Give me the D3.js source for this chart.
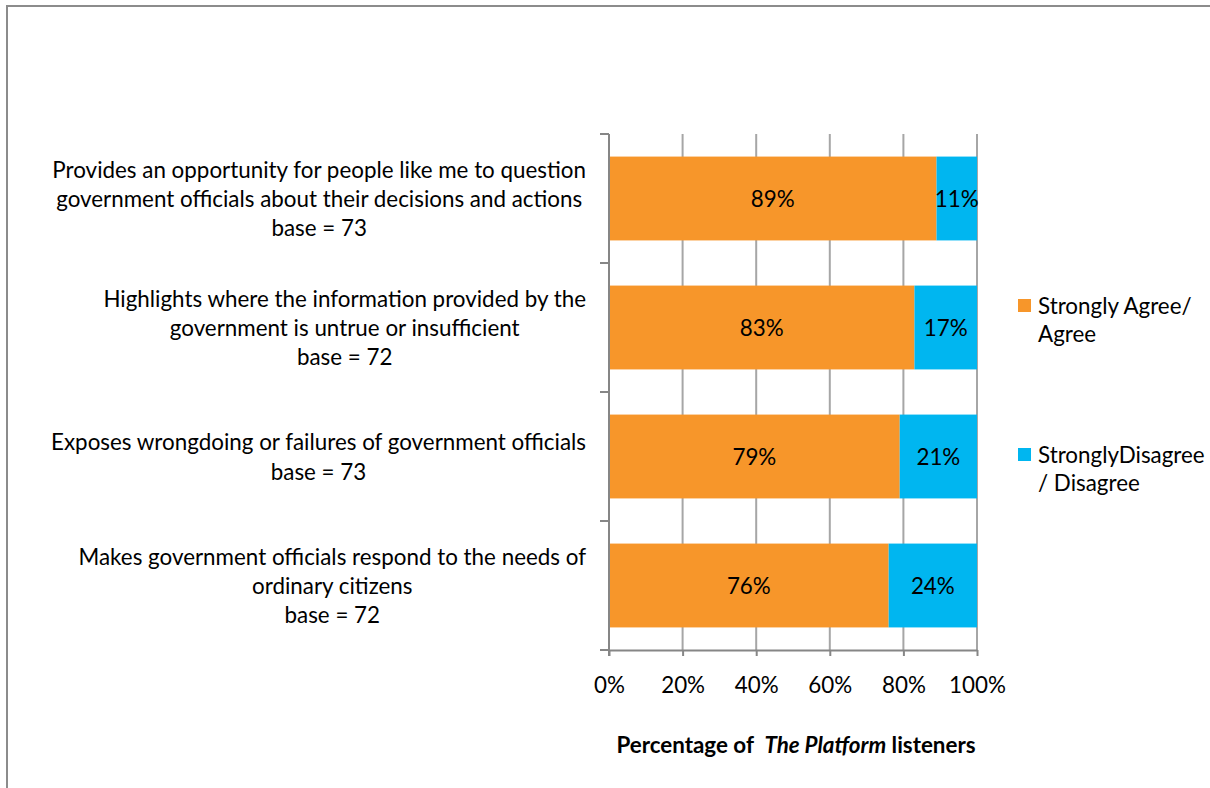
<!DOCTYPE html>
<html>
<head>
<meta charset="utf-8">
<script src="https://cdn.jsdelivr.net/npm/d3@7"></script>
<style>
  html, body { margin: 0; padding: 0; background: #fff; }
  svg { display: block; }
  text { font-family: Lato, "Open Sans", sans-serif; fill: #000; }
</style>
</head>
<body>
<svg id="chart" width="1210" height="788"></svg>
<script>
// Statements rated by listeners (each entry is one wrapped label block)
const categories = [
  ["Provides an opportunity for people like me to question", "government officials about their decisions and actions", "base = 73"],
  ["Highlights where the information provided by the", "government is untrue or insufficient", "base = 72"],
  ["Exposes wrongdoing or failures of government officials", "base = 73"],
  ["Makes government officials respond to the needs of", "ordinary citizens", "base = 72"]
];
const agree = [89, 83, 79, 76];
const disagree = [11, 17, 21, 24];
const seriesLegend = [["Strongly Agree/", "Agree"], ["StronglyDisagree", "/ Disagree"]];
const xTicks = [0, 20, 40, 60, 80, 100];

const colors = ["#F7962A", "#00B6F0"];
const gridColor = "#A6A6A6";
const axisColor = "#868686";

const svg = d3.select("#chart");

// Frame around the chart area
svg.append("rect")
  .attr("x", 7).attr("y", 6)
  .attr("width", 1400).attr("height", 1000)
  .attr("fill", "none").attr("stroke", "#8C8C8C").attr("stroke-width", 2);

// Pick a font size so the longest label line spans the same width as a 22px Calibri line
const probe = svg.append("text").attr("font-size", 22).text(categories[0][0]);
const fitScale = 534 / probe.node().getComputedTextLength();
probe.remove();
const fs = 22 * fitScale;

const x = d3.scaleLinear().domain([0, 100]).range([609, 977]);
const y = d3.scaleBand().domain(d3.range(categories.length)).range([134, 650])
  .paddingInner(0.35).paddingOuter(0.175);
const step = y.step();
const boundaries = d3.range(categories.length + 1).map(i => 134 + i * step);

// Vertical gridlines
svg.append("g").selectAll("line")
  .data(xTicks.slice(1))
  .join("line")
  .attr("x1", d => x(d)).attr("x2", d => x(d))
  .attr("y1", 134).attr("y2", 650)
  .attr("stroke", gridColor).attr("stroke-width", 2);

// Stacked bars
const stacked = categories.map((c, i) => [
  { i, s: 0, x0: 0, x1: agree[i], v: agree[i] },
  { i, s: 1, x0: agree[i], x1: agree[i] + disagree[i], v: disagree[i] }
]).flat();

svg.append("g").selectAll("rect")
  .data(stacked)
  .join("rect")
  .attr("x", d => x(d.x0))
  .attr("width", d => x(d.x1) - x(d.x0))
  .attr("y", d => y(d.i))
  .attr("height", y.bandwidth())
  .attr("fill", d => colors[d.s]);

svg.append("g").selectAll("text")
  .data(stacked)
  .join("text")
  .attr("x", d => (x(d.x0) + x(d.x1)) / 2)
  .attr("y", d => y(d.i) + y.bandwidth() / 2)
  .attr("text-anchor", "middle")
  .attr("dominant-baseline", "central")
  .attr("font-size", fs)
  .text(d => d.v + "%");

// Category axis (left) with ticks at band boundaries
const yAxis = svg.append("g");
yAxis.append("line")
  .attr("x1", 609).attr("x2", 609).attr("y1", 134).attr("y2", 656)
  .attr("stroke", axisColor).attr("stroke-width", 2);
yAxis.selectAll("line.tick")
  .data(boundaries)
  .join("line")
  .attr("class", "tick")
  .attr("x1", 600).attr("x2", 609)
  .attr("y1", d => d).attr("y2", d => d)
  .attr("stroke", axisColor).attr("stroke-width", 2);

// Value axis (bottom)
const xAxis = svg.append("g")
  .attr("transform", "translate(0,650)")
  .call(d3.axisBottom(x).tickValues(xTicks).tickSize(6).tickSizeOuter(0).tickFormat(d => d + "%"));
xAxis.select(".domain").attr("stroke", axisColor).attr("stroke-width", 2);
xAxis.selectAll(".tick line").attr("stroke", axisColor).attr("stroke-width", 2);
xAxis.selectAll(".tick text")
  .attr("y", 34).attr("dy", null)
  .attr("dominant-baseline", "central")
  .attr("font-size", fs)
  .attr("font-family", "Lato, 'Open Sans', sans-serif")
  .attr("fill", "#000");
xAxis.attr("font-size", null).attr("font-family", null);

// Category labels: each block centred, its widest line ending at the right edge
const lineH = 29.3;
const labelRight = 586;
categories.forEach((lines, i) => {
  const g = svg.append("g");
  const t = g.append("text").attr("text-anchor", "middle").attr("font-size", fs);
  const cy = y(i) + y.bandwidth() / 2;
  lines.forEach((ln, k) => {
    t.append("tspan")
      .attr("y", cy + (k - (lines.length - 1) / 2) * lineH)
      .attr("dominant-baseline", "central")
      .text(ln);
  });
  const widths = t.selectAll("tspan").nodes().map(n => n.getComputedTextLength());
  const cx = labelRight - d3.max(widths) / 2;
  t.selectAll("tspan").attr("x", cx);
});

// Legend
const legendY = [305, 454];
seriesLegend.forEach((lines, s) => {
  svg.append("rect")
    .attr("x", 1018).attr("y", legendY[s] - 6)
    .attr("width", 13).attr("height", 13)
    .attr("fill", colors[s]);
  const t = svg.append("text").attr("font-size", fs);
  lines.forEach((ln, k) => {
    t.append("tspan")
      .attr("x", 1038)
      .attr("y", legendY[s] + k * 28)
      .attr("dominant-baseline", "central")
      .text(ln);
  });
});

// Axis title
const title = svg.append("text")
  .attr("x", 796).attr("y", 744)
  .attr("text-anchor", "middle")
  .attr("dominant-baseline", "central")
  .attr("font-size", fs)
  .attr("font-weight", "bold")
  .attr("xml:space", "preserve");
title.append("tspan").text("Percentage of  ");
title.append("tspan").attr("font-style", "italic").text("The Platform");
title.append("tspan").text(" listeners");
</script>
</body>
</html>
